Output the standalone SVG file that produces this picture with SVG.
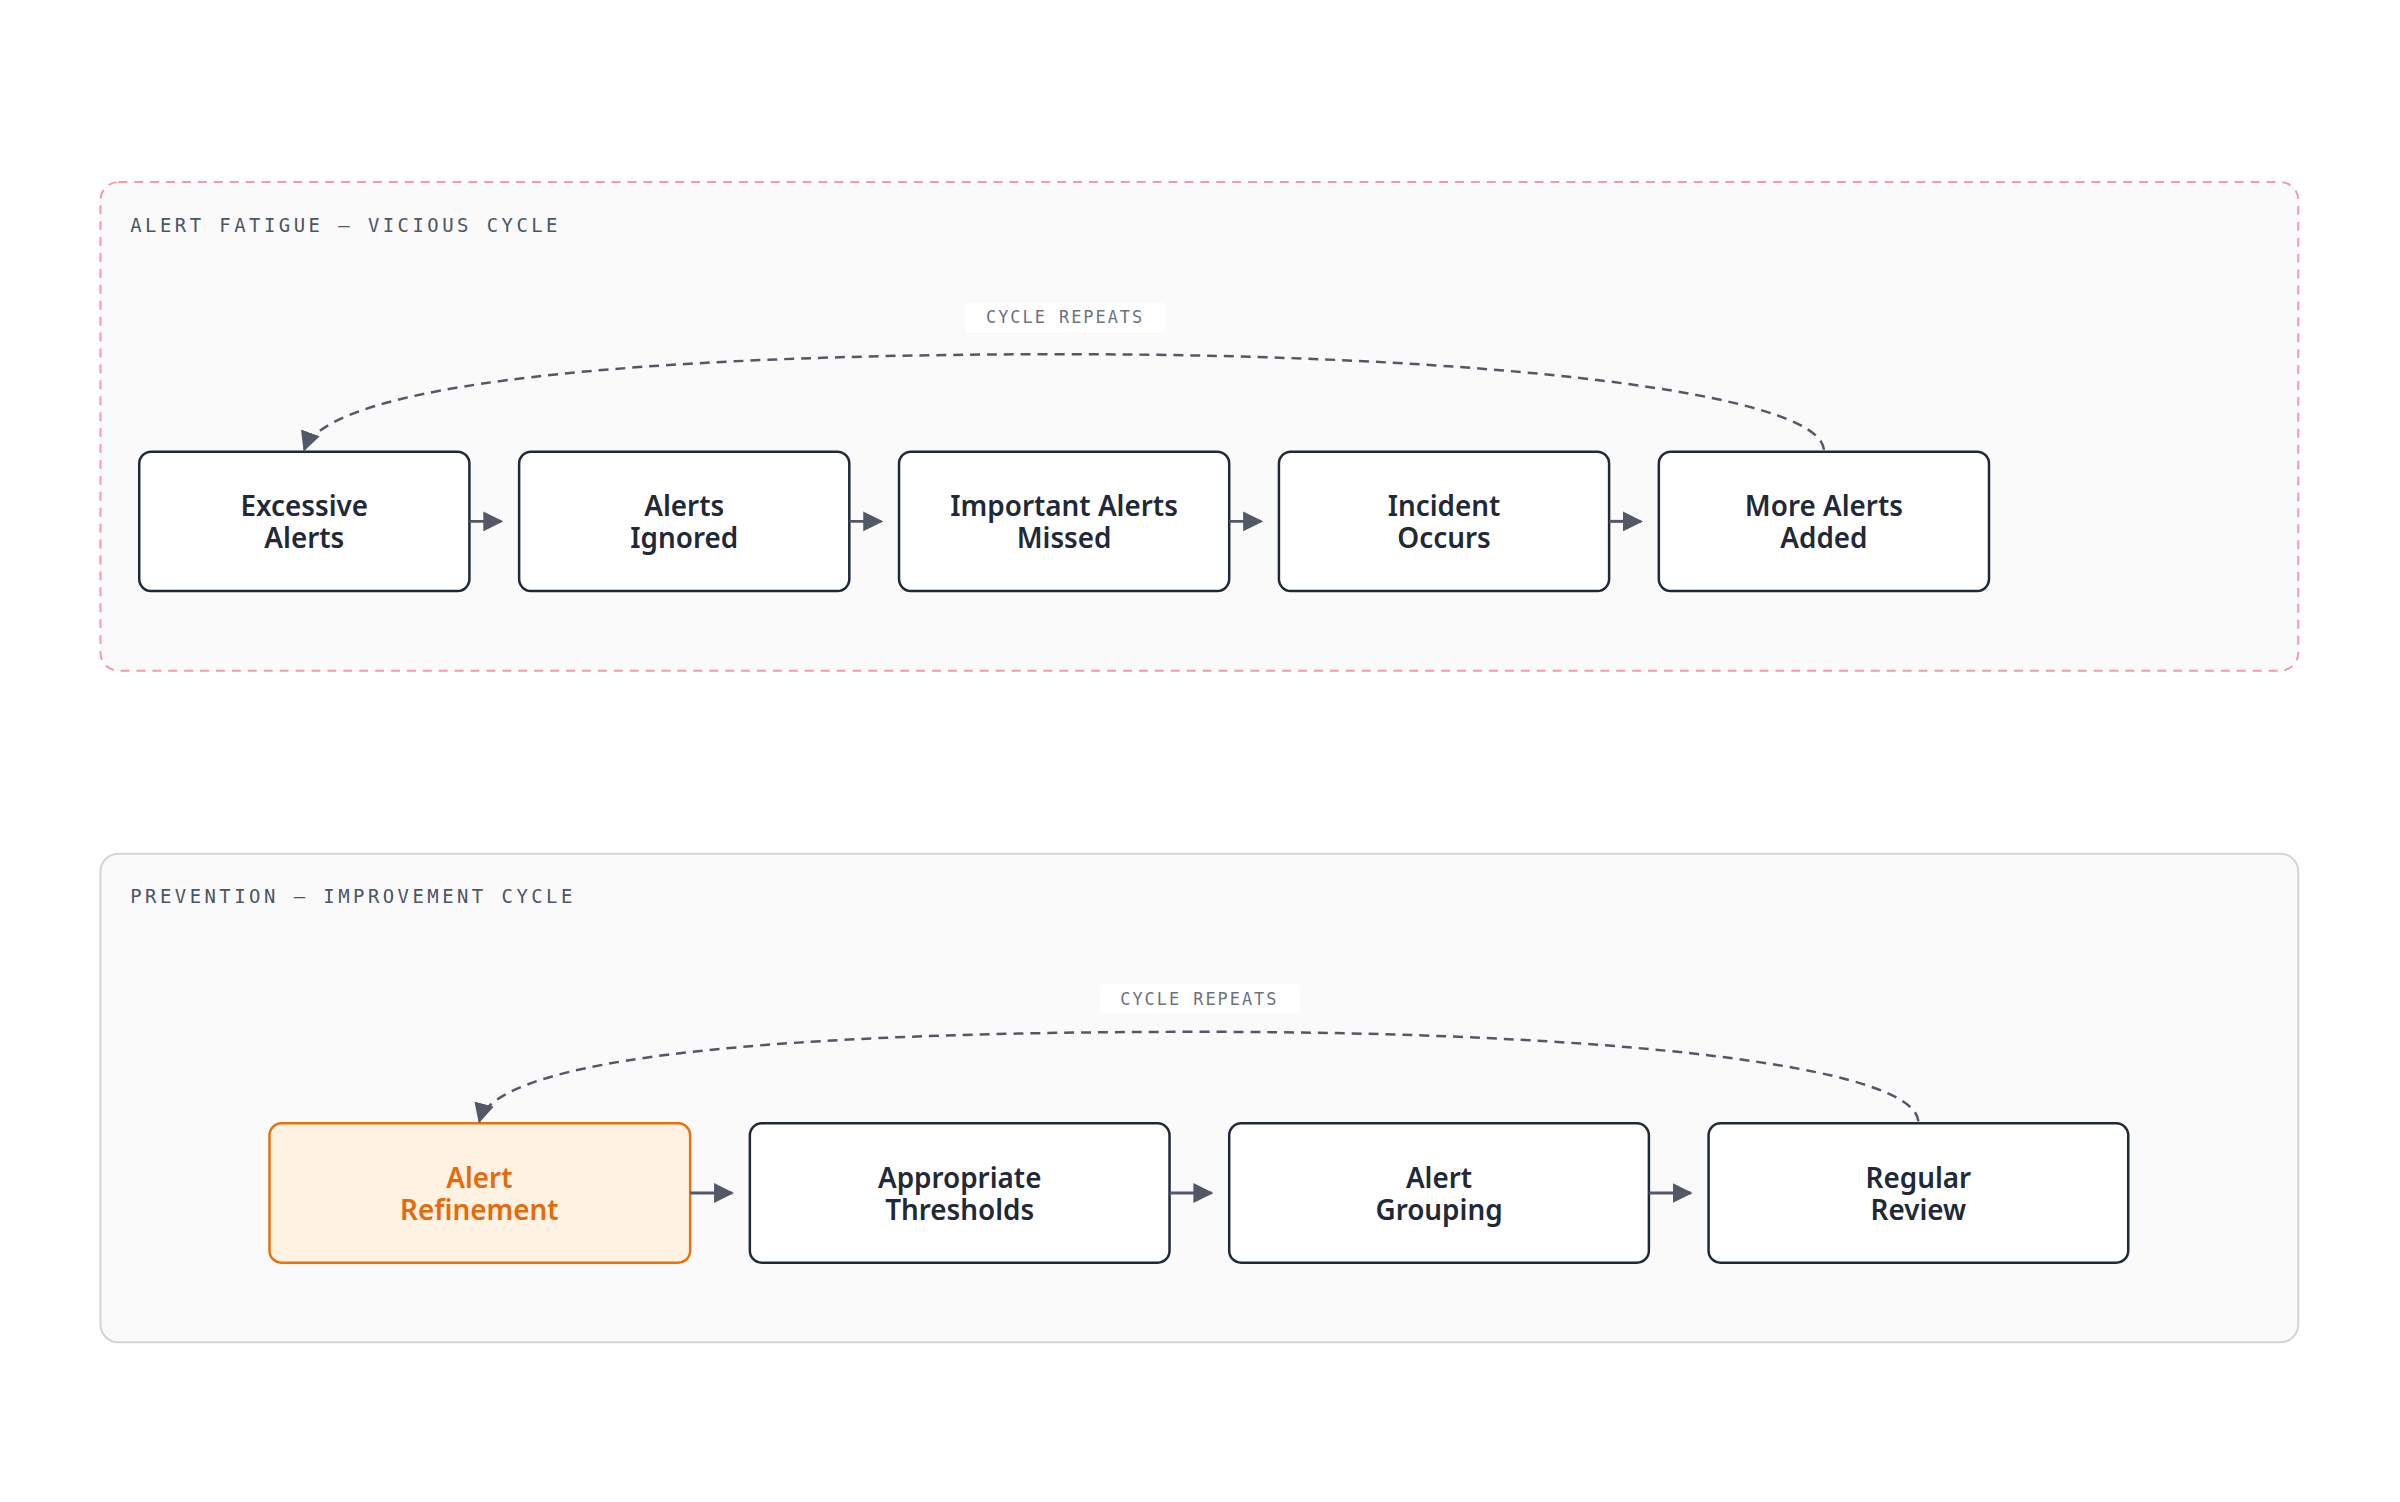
<svg xmlns="http://www.w3.org/2000/svg" width="2400" height="1502" viewBox="0 0 2400 1502">
<style>
.ct{font-family:"DejaVu Sans Mono","Liberation Mono",monospace;font-size:19px;letter-spacing:3.5px;fill:#4b5563}
.n rect{fill:#fff;stroke:#1f2937;stroke-width:2.5}
.n text{font-family:"Noto Sans","Open Sans",sans-serif;font-weight:600;font-size:28px;fill:#1f2937;text-anchor:middle}
.hl rect{fill:#fef3e2;stroke:#ea700c}
.hl text{fill:#e8690a}
.e{stroke:#525865;stroke-width:3;fill:none}
.d{stroke:#525865;stroke-width:2.5;fill:none;stroke-dasharray:10 7}
.lb{font-family:"DejaVu Sans Mono","Liberation Mono",monospace;font-size:17px;letter-spacing:2px;fill:#6b7280;text-anchor:middle}
</style>
<defs><marker id="ah" viewBox="0 0 10 10" refX="9" refY="5" markerWidth="20" markerHeight="20" markerUnits="userSpaceOnUse" orient="auto"><path d="M0,0L10,5L0,10z" fill="#525865"/></marker></defs>
<rect width="2400" height="1502" fill="#fff"/>
<g transform="scale(0.9945,0.995)">
<g id="c1"><rect x="101" y="183" width="2210" height="491" rx="18" fill="#fafafa" stroke="#f29aa8" stroke-width="2" stroke-dasharray="9 7"/><text class="ct" x="131" y="233">ALERT FATIGUE — VICIOUS CYCLE</text></g>
<g id="c2"><rect x="101" y="858" width="2210" height="491" rx="18" fill="#fafafa" stroke="#d4d4d4" stroke-width="2"/><text class="ct" x="131" y="908">PREVENTION — IMPROVEMENT CYCLE</text></g>
<g id="n1" class="n"><rect x="140" y="454" width="332" height="140" rx="12"/><text x="306" y="519">Excessive</text><text x="306" y="551">Alerts</text></g>
<g id="n2" class="n"><rect x="522" y="454" width="332" height="140" rx="12"/><text x="688" y="519">Alerts</text><text x="688" y="551">Ignored</text></g>
<g id="n3" class="n"><rect x="904" y="454" width="332" height="140" rx="12"/><text x="1070" y="519">Important Alerts</text><text x="1070" y="551">Missed</text></g>
<g id="n4" class="n"><rect x="1286" y="454" width="332" height="140" rx="12"/><text x="1452" y="519">Incident</text><text x="1452" y="551">Occurs</text></g>
<g id="n5" class="n"><rect x="1668" y="454" width="332" height="140" rx="12"/><text x="1834" y="519">More Alerts</text><text x="1834" y="551">Added</text></g>
<g id="m1" class="n hl"><rect x="271" y="1129" width="423" height="140" rx="12"/><text x="482" y="1194">Alert</text><text x="482" y="1226">Refinement</text></g>
<g id="m2" class="n"><rect x="754" y="1129" width="422" height="140" rx="12"/><text x="965" y="1194">Appropriate</text><text x="965" y="1226">Thresholds</text></g>
<g id="m3" class="n"><rect x="1236" y="1129" width="422" height="140" rx="12"/><text x="1447" y="1194">Alert</text><text x="1447" y="1226">Grouping</text></g>
<g id="m4" class="n"><rect x="1718" y="1129" width="422" height="140" rx="12"/><text x="1929" y="1194">Regular</text><text x="1929" y="1226">Review</text></g>
<g id="connectors">
<path class="e" d="M472,524H504" marker-end="url(#ah)"/>
<path class="e" d="M854,524H886" marker-end="url(#ah)"/>
<path class="e" d="M1236,524H1268" marker-end="url(#ah)"/>
<path class="e" d="M1618,524H1650" marker-end="url(#ah)"/>
<path class="e" d="M694,1199H736" marker-end="url(#ah)"/>
<path class="e" d="M1176,1199H1218" marker-end="url(#ah)"/>
<path class="e" d="M1658,1199H1700" marker-end="url(#ah)"/>
<path class="d" d="M1834,452C1830,395 1500,356 1070,356C640,356 330,385 306,452" marker-end="url(#ah)"/>
<path class="d" d="M1929,1127C1925,1071 1620,1037 1206,1037C790,1037 500,1061 482,1127" marker-end="url(#ah)"/>
<rect x="971" y="304" width="201" height="30" rx="4" fill="#fff"/><text class="lb" x="1071" y="325">CYCLE REPEATS</text>
<rect x="1106" y="989" width="201" height="30" rx="4" fill="#fff"/><text class="lb" x="1206" y="1010">CYCLE REPEATS</text>
</g>
</g>
</svg>
